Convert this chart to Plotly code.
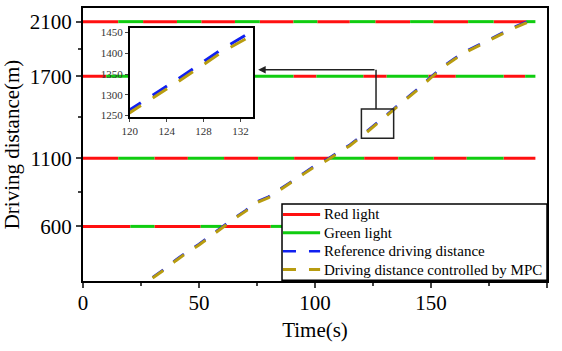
import plotly.graph_objects as go

# ---------------- data ----------------
time_s = [30, 35, 40, 45, 50, 55, 60, 65, 70, 75, 80, 85, 90, 95, 100, 105, 110, 115,
          120, 125, 130, 135, 140, 145, 150, 155, 160, 165, 170, 175, 180, 185, 190, 193]
ref_dist = [228, 288, 356, 417, 471, 536, 600, 660, 717, 782, 818, 873, 931, 990, 1046, 1090,
            1145, 1198, 1264, 1335, 1410, 1476, 1546, 1619, 1696, 1770, 1830, 1883, 1926,
            1970, 2012, 2055, 2090, 2112]
mpc_dist = [222, 281, 349, 410, 464, 529, 593, 653, 710, 775, 811, 866, 924, 983, 1039, 1083,
            1138, 1191, 1257, 1328, 1403, 1469, 1539, 1612, 1689, 1763, 1823, 1876, 1919,
            1963, 2005, 2048, 2084, 2106]

# switching times of each traffic light (first phase red, then alternating)
light_positions = [600, 1100, 1700, 2100]
switch_600 = [0, 20.4, 30.8, 50.7, 59.6, 80.9, 90, 110, 120, 140, 150, 170, 180, 195]
switch_1100 = [0, 15.2, 30.8, 45.2, 60.8, 75.5, 91, 106, 121.2, 135.9, 151.2, 165.4, 181.3, 195]
switch_1700 = [0, 10, 30, 40, 60, 70, 90.7, 100.6, 120.8, 130.9, 148.9, 160.7, 181.3, 190.6, 195]
switch_2100 = [0, 15.2, 25.9, 40.5, 51, 65.5, 76.2, 90.7, 101, 115, 126, 141, 151, 166, 177, 191, 195]
switch_lists = [switch_600, switch_1100, switch_1700, switch_2100]

series_names = ["Red light", "Green light", "Reference driving distance",
                "Driving distance controlled by MPC"]

x_ticks = [0, 50, 100, 150, 200]
x_minor = [25, 75, 125, 175]
y_ticks = [600, 1100, 1700, 2100]
y_minor = [850, 1400, 1900]
inset_x_ticks = [120, 124, 128, 132]
inset_y_ticks = [1250, 1300, 1350, 1400, 1450]
inset_x_range = [120, 133.4]
inset_y_range = [1246, 1460]

# ---------------- build light segments ----------------
red_x, red_y, green_x, green_y = [], [], [], []
for pos, sw in zip(light_positions, switch_lists):
    for i in range(len(sw) - 1):
        if i % 2 == 0:
            red_x += [sw[i], sw[i + 1], None]
            red_y += [pos, pos, None]
        else:
            green_x += [sw[i], sw[i + 1], None]
            green_y += [pos, pos, None]

RED = "#FF1010"
GREEN = "#10CC10"
BLUE = "#1020F0"
GOLD = "#B89C10"
FONT = "Liberation Serif, Times New Roman, serif"
MAIN_DASH = "13px,13px"

styles = [dict(color=RED, width=3), dict(color=GREEN, width=3),
          dict(color=BLUE, width=2.5, dash=MAIN_DASH), dict(color=GOLD, width=3, dash=MAIN_DASH)]

fig = go.Figure()
fig.add_trace(go.Scatter(x=red_x, y=red_y, mode="lines", name=series_names[0],
                         line=styles[0], showlegend=False))
fig.add_trace(go.Scatter(x=green_x, y=green_y, mode="lines", name=series_names[1],
                         line=styles[1], showlegend=False))
fig.add_trace(go.Scatter(x=time_s, y=ref_dist, mode="lines", name=series_names[2],
                         line=styles[2], showlegend=False))
fig.add_trace(go.Scatter(x=time_s, y=mpc_dist, mode="lines", name=series_names[3],
                         line=styles[3], showlegend=False))

# inset
fig.add_trace(go.Scatter(x=time_s, y=ref_dist, mode="lines", showlegend=False,
                         xaxis="x2", yaxis="y2", name=series_names[2],
                         line=dict(color=BLUE, width=3, dash="17px,14px")))
fig.add_trace(go.Scatter(x=time_s, y=mpc_dist, mode="lines", showlegend=False,
                         xaxis="x2", yaxis="y2", name=series_names[3],
                         line=dict(color=GOLD, width=3, dash="17px,14px")))

box_top = inset_y_range[1]
conn_x = 126.3
conn_y = 1748
arrow_tip_x = 75.5

shapes = [
    dict(type="rect", xref="x", yref="y", x0=inset_x_range[0], x1=inset_x_range[1] + 0.5,
         y0=inset_y_range[0], y1=inset_y_range[1], line=dict(color="#222222", width=1.5)),
    dict(type="line", xref="x", yref="y", x0=conn_x, x1=conn_x, y0=box_top, y1=conn_y,
         line=dict(color="#222222", width=1.5)),
]
annotations = [
    dict(x=arrow_tip_x, y=conn_y, ax=conn_x, ay=conn_y, xref="x", yref="y",
         axref="x", ayref="y", text="", showarrow=True, arrowhead=2,
         arrowsize=1, arrowwidth=1.5, arrowcolor="#222222"),
]

# ---------------- compact legend box (paper coordinates) ----------------
leg_x0, leg_x1, leg_y0, leg_y1 = 0.4289, 1.0, 0.003, 0.2825
leg_rows = [0.2436, 0.1764, 0.1091, 0.0418]
sample_x0, sample_x1, text_x = 0.431, 0.511, 0.5144
shapes.append(dict(type="rect", xref="paper", yref="paper", x0=leg_x0, x1=leg_x1,
                   y0=leg_y0, y1=leg_y1, fillcolor="white",
                   line=dict(color="black", width=1.5), layer="above"))
for name, st, ry in zip(series_names, styles, leg_rows):
    shapes.append(dict(type="line", xref="paper", yref="paper", x0=sample_x0, x1=sample_x1,
                       y0=ry, y1=ry, line=st, layer="above"))
    annotations.append(dict(x=text_x, y=ry, xref="paper", yref="paper", text=name,
                            showarrow=False, xanchor="left", yanchor="middle",
                            font=dict(family=FONT, size=15, color="black")))

fig.update_layout(
    width=562, height=351,
    margin=dict(l=83, r=15, t=6, b=70),
    paper_bgcolor="white", plot_bgcolor="white",
    font=dict(family=FONT, color="black"),
    showlegend=False,
    xaxis=dict(range=[0, 200], tickvals=x_ticks, ticks="outside", ticklen=5, tickwidth=2,
               ticklabelstandoff=-3,
               showline=True, linecolor="black", linewidth=2, mirror=True,
               showgrid=False, zeroline=False,
               tickfont=dict(family=FONT, size=21),
               minor=dict(tickvals=x_minor, ticks="outside", ticklen=3, tickwidth=2),
               title=dict(text="Time(s)", font=dict(family=FONT, size=21), standoff=8)),
    yaxis=dict(range=[200, 2200], tickvals=y_ticks, ticks="outside", ticklen=5, tickwidth=2,
               showline=True, linecolor="black", linewidth=2, mirror=True,
               showgrid=False, zeroline=False,
               tickfont=dict(family=FONT, size=21),
               minor=dict(tickvals=y_minor, ticks="outside", ticklen=3, tickwidth=2),
               title=dict(text="Driving distance(m)", font=dict(family=FONT, size=21), standoff=4)),
    xaxis2=dict(domain=[0.101, 0.367], anchor="y2", range=inset_x_range,
                tickvals=inset_x_ticks, ticks="outside", ticklen=3, tickwidth=1,
                showline=True, linecolor="black", linewidth=2, mirror=True,
                showgrid=False, zeroline=False,
                tickfont=dict(family=FONT, size=11, color="#333333")),
    yaxis2=dict(domain=[0.6, 0.925], anchor="x2", range=inset_y_range,
                tickvals=inset_y_ticks, ticks="outside", ticklen=3, tickwidth=1,
                showline=True, linecolor="black", linewidth=2, mirror=True,
                showgrid=False, zeroline=False,
                tickfont=dict(family=FONT, size=11, color="#333333")),
    shapes=shapes,
    annotations=annotations,
)

fig.write_html("out.html")
